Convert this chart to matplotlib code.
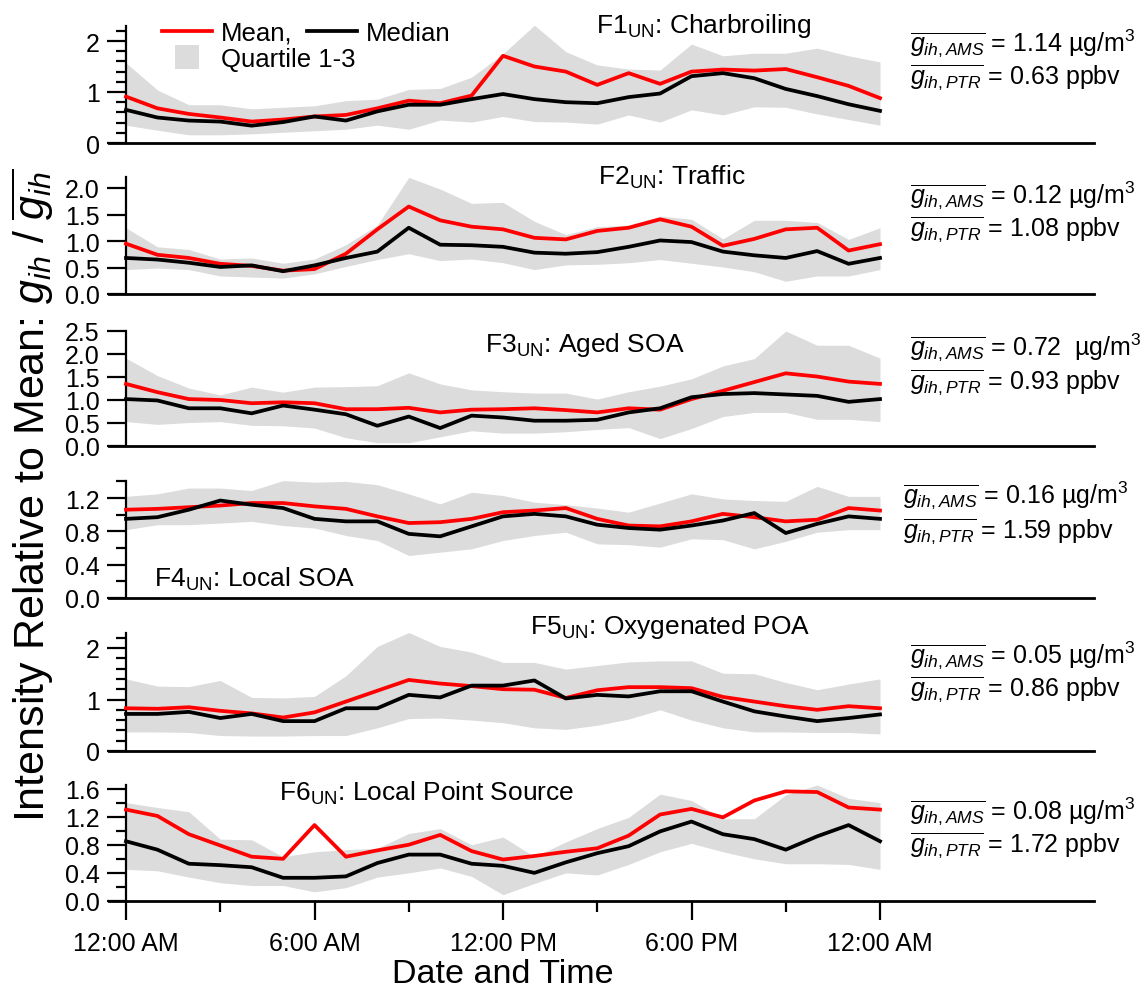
import matplotlib
matplotlib.use('Agg')
import matplotlib.pyplot as plt
from matplotlib.lines import Line2D

plt.rcParams['font.family'] = ['Liberation Sans', 'DejaVu Sans']
plt.rcParams['mathtext.fontset'] = 'custom'
plt.rcParams['mathtext.rm'] = 'Liberation Sans'
plt.rcParams['mathtext.it'] = 'Liberation Sans:italic'
plt.rcParams['mathtext.bf'] = 'Liberation Sans:bold'

# ---------------- data ----------------
hours = list(range(25))
xtick_pos = [0, 6, 12, 18, 24]
xtick_labels = ['12:00 AM', '6:00 AM', '12:00 PM', '6:00 PM', '12:00 AM']

f1_mean = [0.91, 0.68, 0.57, 0.50, 0.42, 0.46, 0.52, 0.55, 0.68, 0.83, 0.78, 0.93, 1.71,
           1.50, 1.40, 1.14, 1.37, 1.16, 1.40, 1.44, 1.42, 1.45, 1.29, 1.12, 0.88]
f1_median = [0.65, 0.50, 0.44, 0.42, 0.34, 0.41, 0.52, 0.44, 0.62, 0.75, 0.75, 0.86, 0.96,
             0.86, 0.80, 0.78, 0.90, 0.97, 1.31, 1.37, 1.27, 1.06, 0.92, 0.76, 0.63]
f1_q1 = [0.35, 0.25, 0.16, 0.16, 0.18, 0.21, 0.24, 0.27, 0.35, 0.27, 0.45, 0.41, 0.52,
         0.42, 0.41, 0.37, 0.55, 0.41, 0.65, 0.55, 0.71, 0.70, 0.57, 0.46, 0.35]
f1_q3 = [1.57, 1.04, 0.75, 0.75, 0.67, 0.70, 0.73, 0.83, 0.86, 1.05, 1.07, 1.29, 1.75,
         2.31, 1.79, 1.53, 1.45, 1.43, 1.94, 1.71, 1.76, 1.76, 1.86, 1.71, 1.59]

f2_mean = [0.95, 0.74, 0.68, 0.57, 0.53, 0.44, 0.47, 0.76, 1.22, 1.65, 1.39, 1.27, 1.22,
           1.06, 1.03, 1.19, 1.25, 1.41, 1.27, 0.91, 1.04, 1.22, 1.25, 0.82, 0.94]
f2_median = [0.68, 0.65, 0.59, 0.51, 0.54, 0.43, 0.54, 0.68, 0.80, 1.25, 0.93, 0.92, 0.89,
             0.78, 0.76, 0.79, 0.89, 1.01, 0.98, 0.80, 0.73, 0.68, 0.81, 0.57, 0.68]
f2_q1 = [0.46, 0.49, 0.46, 0.34, 0.32, 0.30, 0.38, 0.52, 0.65, 0.76, 0.63, 0.66, 0.59,
         0.46, 0.55, 0.56, 0.59, 0.65, 0.58, 0.51, 0.42, 0.24, 0.34, 0.34, 0.46]
f2_q3 = [1.25, 0.89, 0.84, 0.66, 0.68, 0.58, 0.66, 0.93, 1.30, 2.20, 1.98, 1.71, 1.73,
         1.37, 1.12, 1.27, 1.30, 1.47, 1.41, 1.04, 1.39, 1.39, 1.35, 1.03, 1.25]

f3_mean = [1.35, 1.17, 1.02, 1.00, 0.93, 0.95, 0.93, 0.80, 0.80, 0.83, 0.73, 0.79, 0.80,
           0.82, 0.78, 0.73, 0.82, 0.79, 1.02, 1.20, 1.39, 1.58, 1.51, 1.40, 1.35]
f3_median = [1.02, 0.99, 0.82, 0.82, 0.71, 0.88, 0.79, 0.69, 0.44, 0.64, 0.39, 0.66, 0.62,
             0.55, 0.55, 0.57, 0.73, 0.82, 1.06, 1.13, 1.15, 1.12, 1.09, 0.96, 1.02]
f3_q1 = [0.53, 0.47, 0.51, 0.53, 0.45, 0.44, 0.39, 0.18, 0.07, 0.07, 0.20, 0.33, 0.28,
         0.28, 0.31, 0.36, 0.40, 0.16, 0.38, 0.64, 0.73, 0.73, 0.58, 0.58, 0.53]
f3_q3 = [1.91, 1.53, 1.26, 1.11, 1.28, 1.17, 1.28, 1.29, 1.31, 1.59, 1.35, 1.22, 1.18,
         1.15, 1.15, 1.02, 1.18, 1.30, 1.46, 1.74, 1.90, 2.50, 2.19, 2.19, 1.91]

f4_mean = [1.06, 1.07, 1.09, 1.11, 1.14, 1.14, 1.10, 1.07, 0.98, 0.90, 0.91, 0.95, 1.03,
           1.05, 1.08, 0.95, 0.87, 0.86, 0.92, 1.01, 0.97, 0.92, 0.94, 1.08, 1.05]
f4_median = [0.95, 0.97, 1.06, 1.17, 1.12, 1.08, 0.95, 0.92, 0.92, 0.77, 0.74, 0.86, 0.98,
             1.01, 0.98, 0.88, 0.84, 0.82, 0.87, 0.93, 1.02, 0.78, 0.89, 0.98, 0.95]
f4_q1 = [0.82, 0.88, 0.88, 0.90, 0.92, 0.87, 0.84, 0.75, 0.69, 0.51, 0.55, 0.59, 0.69,
         0.75, 0.79, 0.65, 0.64, 0.61, 0.71, 0.70, 0.59, 0.68, 0.79, 0.82, 0.82]
f4_q3 = [1.22, 1.25, 1.32, 1.32, 1.29, 1.41, 1.39, 1.40, 1.36, 1.25, 1.13, 1.27, 1.23,
         1.15, 1.12, 1.08, 1.03, 1.14, 1.25, 1.19, 1.17, 1.16, 1.34, 1.22, 1.22]

f5_mean = [0.83, 0.82, 0.85, 0.78, 0.73, 0.65, 0.75, 0.96, 1.17, 1.38, 1.31, 1.26, 1.20,
           1.19, 1.03, 1.18, 1.24, 1.24, 1.22, 1.05, 0.96, 0.87, 0.80, 0.87, 0.83]
f5_median = [0.72, 0.72, 0.76, 0.64, 0.72, 0.58, 0.58, 0.83, 0.83, 1.09, 1.04, 1.27, 1.27,
             1.37, 1.02, 1.09, 1.06, 1.16, 1.16, 0.96, 0.77, 0.67, 0.58, 0.64, 0.71]
f5_q1 = [0.37, 0.37, 0.36, 0.30, 0.29, 0.29, 0.30, 0.30, 0.45, 0.63, 0.64, 0.60, 0.55,
         0.45, 0.42, 0.50, 0.62, 0.80, 0.60, 0.45, 0.37, 0.37, 0.36, 0.36, 0.33]
f5_q3 = [1.40, 1.26, 1.25, 1.37, 1.04, 1.03, 1.06, 1.46, 2.03, 2.30, 2.03, 1.92, 1.72,
         1.72, 1.59, 1.66, 1.73, 1.75, 1.75, 1.51, 1.50, 1.33, 1.19, 1.30, 1.40]

f6_mean = [1.30, 1.21, 0.95, 0.79, 0.63, 0.60, 1.08, 0.63, 0.72, 0.80, 0.94, 0.71, 0.59,
           0.64, 0.70, 0.75, 0.93, 1.23, 1.31, 1.19, 1.43, 1.56, 1.55, 1.33, 1.30]
f6_median = [0.85, 0.73, 0.53, 0.51, 0.48, 0.33, 0.33, 0.35, 0.54, 0.66, 0.66, 0.53, 0.50,
             0.40, 0.55, 0.68, 0.78, 0.99, 1.13, 0.95, 0.88, 0.73, 0.92, 1.08, 0.85]
f6_q1 = [0.45, 0.43, 0.34, 0.26, 0.22, 0.22, 0.13, 0.19, 0.34, 0.40, 0.47, 0.35, 0.09,
         0.25, 0.40, 0.37, 0.52, 0.70, 0.82, 0.70, 0.60, 0.53, 0.53, 0.52, 0.45]
f6_q3 = [1.40, 1.33, 1.27, 0.88, 0.87, 0.63, 0.70, 0.73, 0.75, 0.96, 1.03, 0.80, 0.91,
         0.63, 0.84, 1.03, 1.19, 1.52, 1.43, 1.17, 1.17, 1.51, 1.65, 1.46, 1.40]

titles = [r'F1$_\mathrm{UN}$: Charbroiling', r'F2$_\mathrm{UN}$: Traffic',
          r'F3$_\mathrm{UN}$: Aged SOA', r'F4$_\mathrm{UN}$: Local SOA',
          r'F5$_\mathrm{UN}$: Oxygenated POA', r'F6$_\mathrm{UN}$: Local Point Source']
ams_text = ['1.14 \u00b5g/m$^3$', '0.12 \u00b5g/m$^3$', '0.72  \u00b5g/m$^3$',
            '0.16 \u00b5g/m$^3$', '0.05 \u00b5g/m$^3$', '0.08 \u00b5g/m$^3$']
ptr_text = ['0.63 ppbv', '1.08 ppbv', '0.93 ppbv', '1.59 ppbv', '0.86 ppbv', '1.72 ppbv']

means = [f1_mean, f2_mean, f3_mean, f4_mean, f5_mean, f6_mean]
medians = [f1_median, f2_median, f3_median, f4_median, f5_median, f6_median]
q1s = [f1_q1, f2_q1, f3_q1, f4_q1, f5_q1, f6_q1]
q3s = [f1_q3, f2_q3, f3_q3, f4_q3, f5_q3, f6_q3]

# ---------------- layout ----------------
W, H = 1140, 995
fig = plt.figure(figsize=(W / 100, H / 100), dpi=100)

x0_px = 126.0
x_per_h = (880.0 - 126.0) / 24.0
xlim = (-0.55, 30.8)
left_px = x0_px + xlim[0] * x_per_h
right_px = x0_px + xlim[1] * x_per_h

# bottom pixel, y top, pixels per unit
panel_geo = [(144, 2.3, 51.0), (295, 2.2, 53.0), (447, 2.5, 46.0),
             (599, 1.4, 83.3), (752, 2.3, 51.5), (902, 1.65, 70.3)]
major_ticks = [[0, 1, 2], [0.0, 0.5, 1.0, 1.5, 2.0], [0.0, 0.5, 1.0, 1.5, 2.0, 2.5],
               [0.0, 0.4, 0.8, 1.2], [0, 1, 2], [0.0, 0.4, 0.8, 1.2, 1.6]]
tick_fmt = ['{:.0f}', '{:.1f}', '{:.1f}', '{:.1f}', '{:.0f}', '{:.1f}']
minor_step = [0.2, None, None, 0.2, 0.2, 0.2]
title_pos = [(704, 33), (672, 185), (585, 352), (255, 587), (670, 634), (427, 801)]
ann_x = [910, 910, 910, 903, 910, 910]
ann_y = [(51, 84), (203, 236), (355, 389), (503, 538), (663, 696), (819, 852)]

red = '#ff0000'
grey = '#dcdcdc'
FS = 18
LW = 2.7

for i in range(6):
    bpx, ytop, ppu = panel_geo[i]
    hpx = ytop * ppu
    ax = fig.add_axes([left_px / W, 1 - bpx / H, (right_px - left_px) / W, hpx / H])
    ax.set_xlim(*xlim)
    ax.set_ylim(0, ytop)
    ax.fill_between(hours, q1s[i], q3s[i], color=grey, lw=0, clip_on=False, zorder=1)
    lm, = ax.plot(hours, means[i], color=red, lw=LW, clip_on=False, zorder=3)
    lmed, = ax.plot(hours, medians[i], color='black', lw=LW, clip_on=False, zorder=4)
    if i == 0:
        h_mean, h_med = lm, lmed
    for s in ['top', 'right']:
        ax.spines[s].set_visible(False)
    ax.spines['left'].set_position(('data', 0))
    ax.spines['left'].set_linewidth(1.6)
    ax.spines['bottom'].set_linewidth(2.0)
    ax.set_yticks(major_ticks[i])
    ax.set_yticklabels([tick_fmt[i].format(v) for v in major_ticks[i]])
    if minor_step[i]:
        n = int(round(ytop / minor_step[i]))
        ax.set_yticks([k * minor_step[i] for k in range(n + 1)
                       if k * minor_step[i] <= ytop + 1e-9], minor=True)
    ax.tick_params(axis='y', which='major', direction='out', length=13.5, width=1.6,
                   labelsize=FS, pad=5.5)
    ax.tick_params(axis='y', which='minor', direction='out', length=7, width=1.6)
    if i < 5:
        ax.set_xticks([])
    else:
        ax.set_xticks(xtick_pos)
        ax.set_xticklabels(xtick_labels)
        ax.set_xticks([3, 9, 15, 21], minor=True)
        ax.tick_params(axis='x', which='major', direction='out', length=13.5, width=1.6,
                       labelsize=FS, pad=8)
        ax.tick_params(axis='x', which='minor', direction='out', length=8, width=1.6)
    ax.patch.set_alpha(0)

    tx, ty = title_pos[i]
    fig.text(tx / W, 1 - ty / H, titles[i], ha='center', va='baseline', fontsize=19)
    y1, y2 = ann_y[i]
    fig.text(ann_x[i] / W, 1 - y1 / H, r'$\overline{g_{ih,AMS}}$ = ' + ams_text[i],
             ha='left', va='baseline', fontsize=FS)
    fig.text(ann_x[i] / W, 1 - y2 / H, r'$\overline{g_{ih,PTR}}$ = ' + ptr_text[i],
             ha='left', va='baseline', fontsize=FS)

# axis titles
fig.text(503 / W, 1 - 975 / H, 'Date and Time', ha='center', va='center', fontsize=24.5)
fig.text(33 / W, 1 - 495 / H, r'Intensity Relative to Mean: $g_{ih}$ / $\overline{g_{ih}}$',
         ha='center', va='center', rotation=90, fontsize=31)

# legend: row 1 (Mean, Median), row 2 (Quartile 1-3)
h_q = Line2D([], [], linestyle='none', marker='s', markersize=17, color=grey,
             markeredgewidth=0)
leg_kw = dict(loc='upper left', frameon=False, fontsize=18.5, handlelength=1.95,
              handletextpad=0.35, columnspacing=0.55, borderpad=0, borderaxespad=0)
fig.legend(handles=[h_mean, h_med], labels=['Mean,', 'Median'], ncol=2,
           bbox_to_anchor=(162 / W, 1 - 22 / H), **leg_kw)
fig.legend(handles=[h_q], labels=['Quartile 1-3'],
           bbox_to_anchor=(162 / W, 1 - 48 / H), **leg_kw)

fig.savefig('out.png', dpi=100)
